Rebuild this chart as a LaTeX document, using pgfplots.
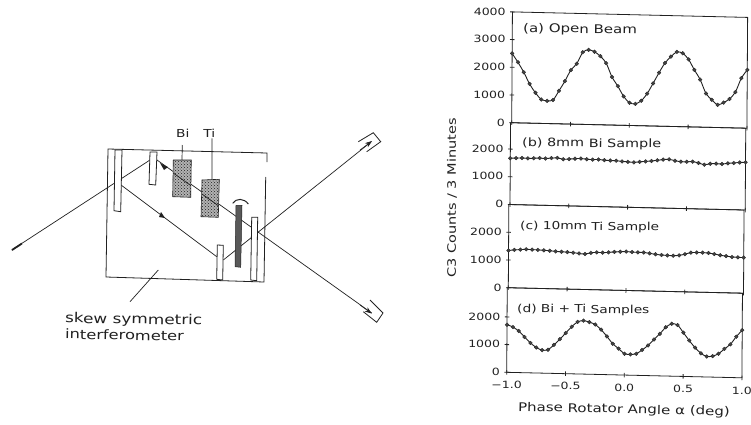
\documentclass[border=0pt]{standalone}
\usepackage{fontspec}
\setmainfont[FakeStretch=1.25]{DejaVu Sans}
\usepackage{pgfplots}
\pgfplotsset{compat=1.18}
\usepackage{pgfplotstable}
\usetikzlibrary{patterns,arrows.meta}
\definecolor{ink}{gray}{0.13}
\pgfplotstableread{
x a b c d
-1.00 2500 1670 1345 1720
-0.95 2185 1680 1370 1640
-0.90 1830 1690 1385 1500
-0.85 1415 1680 1400 1290
-0.80 1100 1690 1395 1080
-0.75 865 1700 1390 920
-0.70 820 1690 1380 830
-0.65 855 1710 1370 850
-0.60 1190 1720 1350 1030
-0.55 1545 1680 1340 1240
-0.50 1950 1690 1335 1470
-0.45 2185 1710 1320 1700
-0.40 2600 1720 1295 1880
-0.35 2695 1700 1280 1930
-0.30 2630 1690 1330 1880
-0.25 2475 1700 1350 1800
-0.20 2230 1680 1345 1620
-0.15 1735 1670 1360 1380
-0.10 1410 1670 1380 1120
-0.05 1045 1650 1395 950
0.00 820 1640 1405 770
0.05 785 1625 1390 750
0.10 900 1650 1385 780
0.15 1165 1670 1385 920
0.20 1540 1690 1360 1090
0.25 1930 1720 1330 1310
0.30 2285 1750 1310 1520
0.35 2520 1765 1300 1760
0.40 2695 1720 1295 1890
0.45 2650 1690 1310 1850
0.50 2435 1690 1360 1580
0.55 2060 1700 1420 1300
0.60 1715 1660 1430 1050
0.65 1220 1600 1430 850
0.70 995 1640 1420 740
0.75 820 1650 1390 760
0.80 905 1640 1350 850
0.85 1040 1670 1325 1030
0.90 1295 1690 1300 1200
0.95 1800 1710 1290 1480
1.00 2105 1720 1285 1720
}\data
\pgfplotsset{panel/.style={
  x={(117.6pt,-2.75pt)}, y={(0.00018pt,0.0277pt)},
  anchor=origin, xmin=-1, xmax=1, ymin=0,
  axis line style={ink,line width=0.8pt},
  tick style={ink,line width=0.8pt},
  tick align=center, major tick length=4.5pt,
  xtick={-1,-0.5,0,0.5,1}, xticklabels={},
  ytick={0,1000,2000},
  tick pos=left,
  clip=false,
  /pgf/number format/assume math mode=true,
  yticklabel style={font=\fontsize{10}{10}\selectfont,text=ink,xshift=-1pt},
  xticklabel style={font=\fontsize{10}{10}\selectfont,text=ink,yshift=-3pt},
  scaled y ticks=false,
  yticklabel={\pgfmathprintnumber[int detect,1000 sep={}]{\tick}},
}}
\pgfplotsset{curve/.style={ink,line width=0.9pt,smooth,mark=*,mark size=1.9pt,mark options={fill=ink!85,draw=ink,line width=0.3pt}}}
\begin{document}
\begin{tikzpicture}[x=1pt,y=1pt]
\useasboundingbox (0,0) rectangle (751,424);
\fill[white] (0,0) rectangle (751,424);
\begin{axis}[panel,at={(629.3pt,298.55pt)},ymax=4000,ytick={0,1000,2000,3000,4000}]
\addplot[curve] table[x=x,y=a]{\data};
\end{axis}
\begin{axis}[panel,at={(627.6pt,216.75pt)},ymax=2953]
\addplot[curve] table[x=x,y=b]{\data};
\end{axis}
\begin{axis}[panel,at={(625.9pt,133.55pt)},ymax=3003]
\addplot[curve] table[x=x,y=c]{\data};
\end{axis}
\begin{axis}[panel,at={(624.3pt,48.95pt)},ymax=3054,xticklabels={−1.0,−0.5,0.0,0.5,1.0}]
\addplot[curve] table[x=x,y=d]{\data};
\end{axis}
\begin{scope}[x=1pt,y=-1pt,yshift=424pt,text=ink,
  lab/.style={anchor=west,inner sep=0pt,rotate=-0.8}]
\node[lab,font=\fontsize{12}{12}\selectfont] at (523,29) {(a) Open Beam};
\node[lab,font=\fontsize{11.5}{12}\selectfont] at (522,143) {(b) 8mm Bi Sample};
\node[lab,font=\fontsize{11}{12}\selectfont] at (520,226) {(c) 10mm Ti Sample};
\node[lab,font=\fontsize{11}{12}\selectfont] at (517,309) {(d) Bi + Ti Samples};
\node[rotate=90,inner sep=0pt,font=\fontsize{11.6}{12}\selectfont] at (452,198) {C3 Counts / 3 Minutes};
\node[rotate=-1.2,inner sep=0pt,font=\fontsize{12}{12}\selectfont] at (624,410) {Phase Rotator Angle α (deg)};
% schematic
\draw[ink,line width=0.8pt] (267,162)--(267,153)--(108,149)--(106,277)--(264,282)--(265.7,177);
\draw[ink,line width=0.7pt] (11.7,250)--(150,160);
\draw[ink,line width=1.8pt] (12,250)--(22,243.5);
\draw[ink,line width=0.7pt] (157,160)--(371.7,313);
\draw[ink,line width=0.7pt] (121,185)--(216.7,256.7);
\draw[ink,line width=0.7pt] (223.3,260)--(371,142);
\fill[ink] (160,163)--(168,167)--(164,170)--cycle;
\fill[ink] (161,212)--(165,218)--(159,217)--cycle;
\draw[ink,line width=0.6pt,-{Stealth[length=7pt,width=5pt]}] (360,305)--(371.7,313.5);
\draw[ink,line width=0.6pt,-{Stealth[length=7pt,width=5pt]}] (360,150)--(372,141);
\draw[ink,line width=0.8pt] (370,300)--(383,313)--(376.7,322.3)--(363.3,311.7);
\draw[ink,line width=0.8pt] (358.3,141.7)--(373.3,132.7)--(380.7,141.7)--(366.7,151.7);
\foreach \p in {{(115,150)--(122,150)--(120.7,211.7)--(114,210.7)},
 {(150,152)--(157,152)--(155.7,185)--(149,184.3)},
 {(217.3,245)--(223.3,245.3)--(222.7,280)--(216.7,279.3)},
 {(251.7,217.3)--(257.7,217.3)--(256.7,280.7)--(250.7,280)}}
 {\filldraw[fill=white,draw=ink,line width=0.8pt] \p --cycle;}
\filldraw[fill=black!30,draw=ink,line width=0.6pt] (173.3,160)--(191.3,160)--(190.7,197.3)--(172.7,196.7)--cycle;
\filldraw[fill=black!30,draw=ink,line width=0.6pt] (202,180)--(219.3,179.3)--(218.3,217.3)--(201,216.7)--cycle;
\fill[pattern=crosshatch dots,pattern color=ink] (173.3,160)--(191.3,160)--(190.7,197.3)--(172.7,196.7)--cycle;
\fill[pattern=crosshatch dots,pattern color=ink] (202,180)--(219.3,179.3)--(218.3,217.3)--(201,216.7)--cycle;
\filldraw[fill=black!65,draw=ink,line width=0.5pt] (236,205.3)--(242,205.3)--(240.7,267.3)--(235,266.7)--cycle;
\draw[ink,line width=0.7pt] (173.3,173)--(190.7,185.5)  (202,194)--(218.8,206);
\draw[ink,line width=1pt] (232.7,203.3) .. controls (236,198) and (244,198) .. (248.3,204);
\draw[ink,line width=0.7pt] (182.3,145)--(182,160) (212,138.3)--(212,179.3) (158.3,270)--(130,301.7);
\node[inner sep=0pt,font=\fontsize{11}{12}\selectfont] at (182.7,133) {Bi};
\node[inner sep=0pt,font=\fontsize{11}{12}\selectfont] at (209.3,133) {Ti};
\node[anchor=west,inner sep=0pt,rotate=-1,font=\fontsize{13.5}{12}\selectfont] at (65,319) {skew symmetric};
\node[anchor=west,inner sep=0pt,rotate=-1,font=\fontsize{13}{12}\selectfont] at (65,334) {interferometer};
\end{scope}
\end{tikzpicture}
\end{document}
